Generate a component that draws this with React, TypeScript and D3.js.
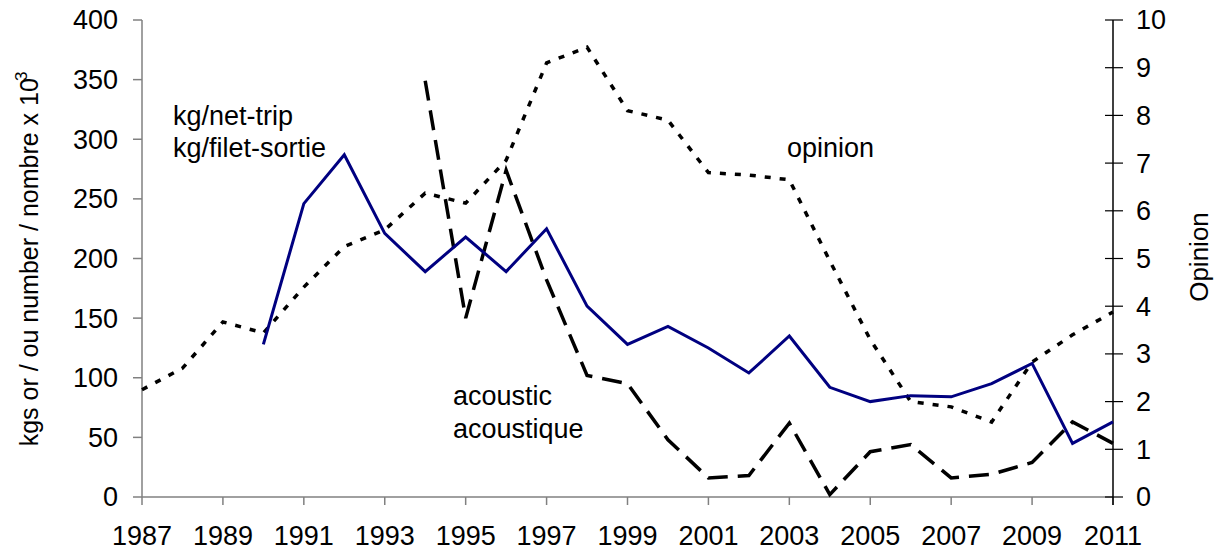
import React from "react";
import * as d3 from "d3";

const years = d3.range(1987, 2012);
const netTripYears = [1990,1991,1992,1993,1994,1995,1996,1997,1998,1999,2000,2001,2002,2003,2004,2005,2006,2007,2008,2009,2010,2011];
const netTrip = [128,246,287,221,189,218,189,225,160,128,143,125,104,135,92,80,85,84,95,112,45,63];
const opinionYears = years;
const opinion = [2.25,2.7,3.67,3.44,4.4,5.25,5.6,6.37,6.16,7.06,9.1,9.43,8.1,7.9,6.8,6.75,6.65,4.95,3.3,2.0,1.89,1.57,2.83,3.4,3.88];
const acousticYears = [1994,1995,1996,1997,1998,1999,2000,2001,2002,2003,2004,2005,2006,2007,2008,2009,2010,2011];
const acoustic = [349,150,274,182,102,95,48,16,18,62,2,38,44,16,19,29,63,45];
const xTicks = d3.range(1987, 2012, 2);
const leftTicks = [0,50,100,150,200,250,300,350,400];
const rightTicks = [0,1,2,3,4,5,6,7,8,9,10];

const W = 1225, H = 554;
const L = 142, R = 1113, T = 20, B = 497;
const FONT = "'Liberation Sans', Arial, sans-serif";

export default function App() {
  const x = d3.scaleLinear().domain([1987, 2011]).range([L, R]);
  const yL = d3.scaleLinear().domain([0, 400]).range([B, T]);
  const yR = d3.scaleLinear().domain([0, 10]).range([B, T]);
  const lineL = d3.line<[number, number]>().x(d => x(d[0])).y(d => yL(d[1]));
  const lineR = d3.line<[number, number]>().x(d => x(d[0])).y(d => yR(d[1]));
  const netPts = netTripYears.map((yr, i) => [yr, netTrip[i]] as [number, number]);
  const opPts = opinionYears.map((yr, i) => [yr, opinion[i]] as [number, number]);
  const acPts = acousticYears.map((yr, i) => [yr, acoustic[i]] as [number, number]);
  const fs = 27;
  return (
    <svg width={W} height={H} style={{ position: "absolute", left: 0, top: 0 }} fontFamily={FONT}>
      <rect width={W} height={H} fill="#fff" />
      {/* x axis */}
      <line x1={L} x2={R} y1={B} y2={B} stroke="#808080" strokeWidth={1.5} />
      {xTicks.map(t => (
        <g key={t}>
          <line x1={x(t)} x2={x(t)} y1={B} y2={B + 8} stroke="#808080" strokeWidth={1.5} />
          <text x={x(t)} y={545} textAnchor="middle" fontSize={fs} fill="#000">{t}</text>
        </g>
      ))}
      {/* left axis */}
      <line x1={L} x2={L} y1={T} y2={B} stroke="#808080" strokeWidth={1.5} />
      {leftTicks.map(t => (
        <g key={t}>
          <line x1={L - 9} x2={L} y1={yL(t)} y2={yL(t)} stroke="#808080" strokeWidth={1.5} />
          <text x={118} y={yL(t)} dy="0.35em" textAnchor="end" fontSize={fs} fill="#000">{t}</text>
        </g>
      ))}
      {/* right axis */}
      <line x1={R} x2={R} y1={T} y2={B + 8} stroke="#000" strokeWidth={1.5} />
      {rightTicks.map(t => (
        <g key={t}>
          <line x1={R - 8} x2={R + 10} y1={yR(t)} y2={yR(t)} stroke="#000" strokeWidth={1.2} />
          <text x={1136} y={yR(t)} dy="0.35em" textAnchor="start" fontSize={fs} fill="#000">{t}</text>
        </g>
      ))}
      {/* axis titles */}
      <text transform={`translate(38,259) rotate(-90)`} textAnchor="middle" fontSize={25} fill="#000">
        kgs or / ou number / nombre x 10<tspan fontSize={17} dy={-11} dx={-3}>3</tspan>
      </text>
      <text transform={`translate(1208,257) rotate(-90)`} textAnchor="middle" fontSize={26} fill="#000">Opinion</text>
      {/* series */}
      <path d={lineR(opPts) || ""} fill="none" stroke="#000" strokeWidth={3.5} strokeDasharray="6 9" />
      <path d={lineL(acPts) || ""} fill="none" stroke="#000" strokeWidth={3.5} strokeDasharray="20 10" />
      <path d={lineL(netPts) || ""} fill="none" stroke="#000080" strokeWidth={3} strokeLinejoin="miter" />
      {/* annotations */}
      <text x={173} y={125} fontSize={fs} fill="#000">kg/net-trip</text>
      <text x={173} y={157} fontSize={fs} fill="#000">kg/filet-sortie</text>
      <text x={787} y={157} fontSize={fs} fill="#000">opinion</text>
      <text x={453} y={405} fontSize={fs} fill="#000">acoustic</text>
      <text x={453} y={438} fontSize={fs} fill="#000">acoustique</text>
    </svg>
  );
}
